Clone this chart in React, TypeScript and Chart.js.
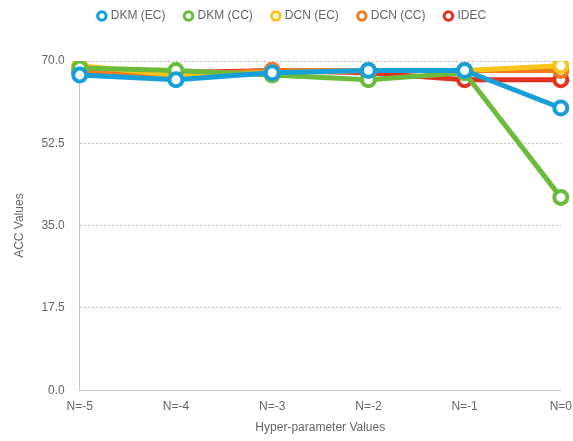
import React, { useEffect, useRef } from "react";
import { Chart, registerables } from "chart.js";

Chart.register(...registerables);

const categories = ["N=-5", "N=-4", "N=-3", "N=-2", "N=-1", "N=0"];
const dkmEC = [67.0, 66.0, 67.5, 68.0, 68.0, 60.0];
const dkmCC = [68.5, 68.0, 67.0, 66.0, 67.5, 41.0];
const dcnEC = [69.0, 67.0, 67.5, 68.0, 68.0, 69.0];
const dcnCC = [68.0, 67.0, 68.0, 68.0, 68.0, 68.0];
const idec = [67.5, 67.5, 68.0, 67.5, 66.0, 66.0];
const yTicks = [0, 17.5, 35, 52.5, 70];

const seriesNames = ["DKM (EC)", "DKM (CC)", "DCN (EC)", "DCN (CC)", "IDEC"];
const seriesColors = ["#169fd8", "#6cbb3c", "#f7c41c", "#f47a20", "#e2311d"];

const FONT = "Liberation Sans, Arial, sans-serif";

export default function App() {
  const ref = useRef<HTMLCanvasElement | null>(null);
  useEffect(() => {
    document.body.style.margin = "0";
    const ctx = ref.current!;
    const all = [dkmEC, dkmCC, dcnEC, dcnCC, idec];
    const datasets = all.map((d, i) => ({
      label: seriesNames[i],
      data: d,
      borderColor: seriesColors[i],
      backgroundColor: "#ffffff",
      pointBorderColor: seriesColors[i],
      pointBackgroundColor: "#ffffff",
      borderWidth: 5,
      pointRadius: 6.5,
      pointBorderWidth: 4,
      pointHoverRadius: 6.5,
      tension: 0,
      fill: false,
      order: i,
    }));
    const legendMargin = {
      id: "legendMargin",
      beforeInit(chart: any) {
        const orig = chart.legend.fit;
        chart.legend.fit = function () {
          orig.bind(chart.legend)();
          this.height += 29;
        };
      },
    };
    const chart = new Chart(ctx, {
      type: "line",
      data: { labels: categories, datasets },
      plugins: [legendMargin],
      options: {
        animation: false,
        responsive: true,
        maintainAspectRatio: false,
        layout: { padding: { left: 12, right: 0, top: -10, bottom: 6 } },
        plugins: {
          legend: {
            position: "top",
            labels: {
              usePointStyle: true,
              pointStyle: "circle",
              boxWidth: 6,
              boxHeight: 6,
              padding: 20,
              color: "#666",
              font: { family: FONT, size: 12 },
              generateLabels: (c: any) =>
                c.data.datasets.map((ds: any, i: number) => ({
                  text: ds.label,
                  fillStyle: "#ffffff",
                  strokeStyle: ds.borderColor,
                  lineWidth: 3,
                  pointStyle: "circle",
                  datasetIndex: i,
                  hidden: false,
                  fontColor: "#666",
                })),
            },
          },
          tooltip: { enabled: false },
        },
        scales: {
          x: {
            offset: false,
            grid: { display: false },
            border: { display: true, color: "#c8c8c8", width: 1 },
            ticks: {
              color: "#666",
              padding: 1,
              font: { family: FONT, size: 12 },
            },
            title: {
              display: true,
              text: "Hyper-parameter Values",
              color: "#666",
              font: { family: FONT, size: 12 },
              padding: { top: 6, bottom: 0 },
            },
          },
          y: {
            min: 0,
            max: 70,
            afterBuildTicks: (axis: any) => {
              axis.ticks = yTicks.map((v) => ({ value: v }));
            },
            grid: {
              color: (c: any) => (c.tick && c.tick.value === 0 ? "rgba(0,0,0,0)" : "#bdbdbd"),
              drawTicks: false,
            },
            border: { display: true, color: "#c8c8c8", width: 1, dash: [2, 2] },
            ticks: {
              color: "#666",
              padding: 15,
              font: { family: FONT, size: 12 },
              callback: (v: any) => Number(v).toFixed(1),
            },
            title: {
              display: true,
              text: "ACC Values",
              color: "#666",
              font: { family: FONT, size: 12 },
              padding: { top: 0, bottom: 0 },
            },
          },
        },
      },
    });
    return () => chart.destroy();
  }, []);
  return (
    <div style={{ width: 573, height: 441, position: "relative" }}>
      <canvas ref={ref} />
    </div>
  );
}
